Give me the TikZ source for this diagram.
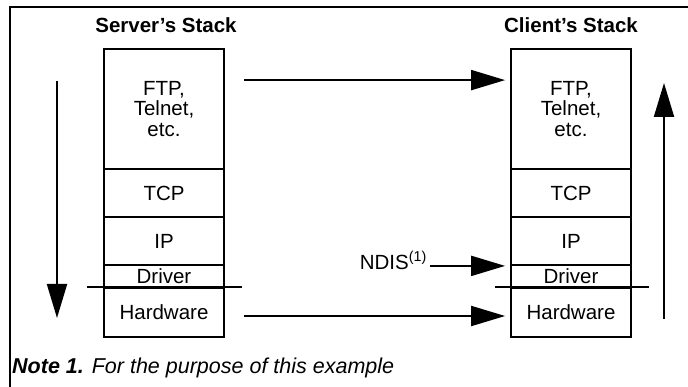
\documentclass[tikz,border=0pt]{standalone}
\usepackage{fontspec}
\setmainfont{Liberation Sans}
\usetikzlibrary{arrows.meta,calc}
\begin{document}
\begin{tikzpicture}[x=1pt,y=-1pt,
  stackbox/.style={draw, line width=1.8pt, minimum width=120pt, inner sep=0pt,
    align=center, font=\fontsize{20.5}{20.5}\selectfont},
  stacktitle/.style={font=\fontsize{20.5}{24}\selectfont\bfseries},
  flow/.style={line width=2pt, -{Triangle[length=34pt,width=20pt]}},
  sepline/.style={line width=2.8pt},
  outline/.style={line width=2pt}]
\useasboundingbox (0,0) rectangle (688,387);

% open frame: top and left edges only
\draw[outline] (10,387) -- (10,7) -- (688,7);

% titles
\node[stacktitle] (stitle) at (166,25) {Server’s Stack};
\node[stacktitle] (ctitle) at (571,25) {Client’s Stack};

% server stack
\node[stackbox, minimum height=120pt] (sFTP) at (164,109) {FTP,\\Telnet,\\etc.};
\node[stackbox, minimum height=48pt]  (sTCP) at (164,193) {TCP};
\node[stackbox, minimum height=48pt]  (sIP)  at (164,241) {IP};
\node[stackbox, minimum height=23pt]  (sDrv) at (164,276.5) {Driver};
\node[stackbox, minimum height=49pt]  (sHW)  at (164,312.5) {Hardware};

% client stack
\node[stackbox, minimum height=120pt] (cFTP) at (571,109) {FTP,\\Telnet,\\etc.};
\node[stackbox, minimum height=48pt]  (cTCP) at (571,193) {TCP};
\node[stackbox, minimum height=48pt]  (cIP)  at (571,241) {IP};
\node[stackbox, minimum height=23pt]  (cDrv) at (571,276.5) {Driver};
\node[stackbox, minimum height=49pt]  (cHW)  at (571,312.5) {Hardware};

% software / hardware boundary
\draw[sepline] ([xshift=-16pt]sHW.north west) -- ([xshift=17pt]sHW.north east);
\draw[sepline] ([xshift=-15pt]cHW.north west) -- ([xshift=17pt]cHW.north east);

% data flow between the stacks
\draw[flow] ([xshift=19pt,yshift=-32pt]sFTP.north east) -- ([xshift=-5pt,yshift=-32pt]cFTP.north west);
\draw[flow] ([xshift=19pt,yshift=-3.5pt]sHW.east) -- ([xshift=-5pt,yshift=-3.5pt]cHW.west);

% NDIS interface
\node[anchor=base east, inner sep=0pt, font=\fontsize{20.5}{24}\selectfont] (ndis) at (427,269.5) {NDIS\textsuperscript{(1)}};
\draw[flow] ([xshift=3pt]ndis.east |- cIP.south west) -- ([xshift=-5pt]cIP.south west);

% direction down the server stack and up the client stack
\coordinate (downTop) at (57,81);
\coordinate (downEnd) at (57,318);
\coordinate (upBottom) at (664,319);
\coordinate (upEnd) at (664,83);
\draw[flow] (downTop) -- (downEnd);
\draw[flow] (upBottom) -- (upEnd);

% footnote
\node[anchor=west, inner sep=0pt, font=\fontsize{21.5}{24}\selectfont] (note) at (12,367.5)
  {\textbf{\textit{Note 1.}} \textit{For the purpose of this example}};
\end{tikzpicture}
\end{document}
